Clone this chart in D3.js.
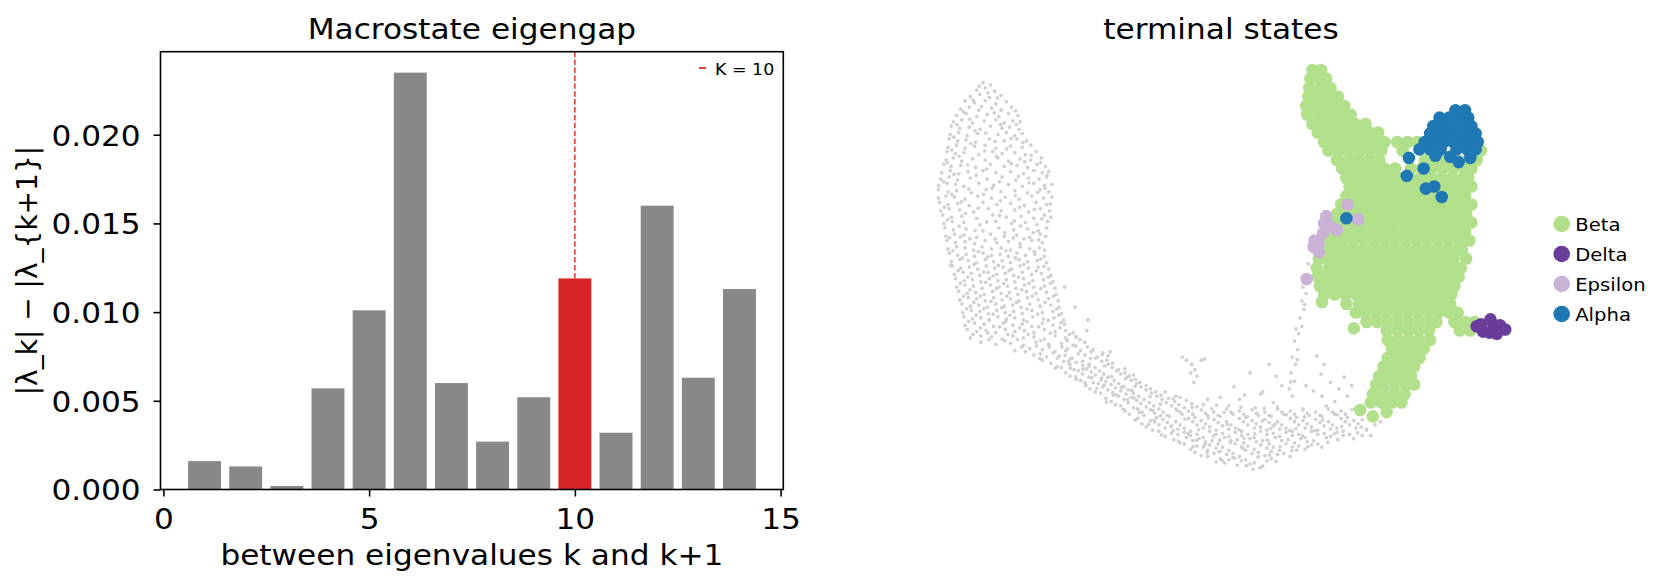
<!DOCTYPE html>
<html>
<head>
<meta charset="utf-8">
<script src="https://cdn.jsdelivr.net/npm/d3@7"></script>
<style>
  body { margin: 0; background: #fff; }
  text { font-family: "DejaVu Sans", sans-serif; fill: #000; }
</style>
</head>
<body>
<script>
// ---- eigengap bars ----
const gapK = [1, 2, 3, 4, 5, 6, 7, 8, 9, 10, 11, 12, 13, 14];
const gapValues = [0.0016, 0.0013, 0.0002, 0.0057, 0.0101, 0.0235, 0.0060,
                   0.0027, 0.0052, 0.0119, 0.0032, 0.0160, 0.0063, 0.0113];
const chosenK = 10;
const gapXTicks = [0, 5, 10, 15];
const gapYTicks = [0, 0.005, 0.010, 0.015, 0.020];

// ---- embedding (UMAP1, UMAP2) ----
const stateNames = ["Beta", "Delta", "Epsilon", "Alpha"];
const stateColors = ["#b2df8a", "#6a3d9a", "#cab2d6", "#1f78b4"];

// cells without a terminal state
const greyCells = [
  [4.8,38.2],[5.5,38.0],
  [4.2,37.5],[5.0,37.7],[5.9,37.4],
  [3.6,36.9],[4.5,37.1],[5.4,36.8],[6.5,37.0],
  [3.1,36.5],[4.0,36.3],[5.0,36.5],[6.0,36.2],[7.0,36.4],
  [2.7,35.7],[3.5,35.9],[4.4,35.6],[5.6,35.8],[6.5,35.6],[7.5,35.9],
  [2.3,35.1],[3.2,35.3],[4.2,35.0],[5.2,35.2],[6.3,35.0],[7.2,35.3],[8.1,35.1],
  [2.0,34.5],[2.8,34.7],[3.8,34.4],[4.9,34.6],[6.0,34.7],[6.8,34.4],[7.6,34.6],[8.3,34.5],
  [1.8,34.1],[2.6,33.9],[3.5,34.0],[4.5,33.8],[5.5,34.1],[6.6,33.9],[7.3,34.0],[8.2,33.8],
  [1.7,33.3],[2.5,33.5],[3.3,33.2],[4.3,33.4],[6.2,33.3],[7.0,33.5],[7.8,33.2],[8.5,33.4],
  [1.6,32.9],[2.4,32.7],[3.2,32.8],[4.1,32.6],[5.4,32.9],[6.8,32.7],[8.0,32.9],[8.9,32.7],
  [1.5,32.1],[2.3,32.3],[3.1,32.0],[4.0,32.2],[5.0,32.3],[6.0,32.0],[7.4,32.2],[8.5,32.1],[9.3,32.3],
  [1.4,31.7],[2.2,31.5],[3.0,31.6],[4.4,31.4],[5.7,31.7],[6.6,31.5],[7.8,31.6],[8.8,31.4],[9.8,31.7],
  [1.3,30.9],[2.0,31.1],[2.8,30.8],[3.8,31.0],[5.0,30.9],[6.2,31.1],[7.2,30.8],[8.3,31.0],[9.3,30.9],[10.3,31.1],
  [1.1,30.5],[1.8,30.3],[2.7,30.4],[4.1,30.2],[5.5,30.5],[6.8,30.3],[8.0,30.4],[9.0,30.2],[9.9,30.5],[10.7,30.3],
  [0.9,29.7],[1.7,29.9],[2.5,29.6],[3.4,29.8],[4.8,29.9],[6.0,29.7],[7.4,29.8],[8.6,29.6],[9.6,29.9],[10.4,29.7],[11.0,29.8],
  [0.8,29.1],[1.6,29.3],[2.4,29.0],[3.6,29.2],[5.2,29.1],[6.6,29.3],[7.9,29.0],[9.1,29.2],[10.1,29.1],[10.8,29.3],
  [0.6,28.5],[1.4,28.7],[2.2,28.6],[3.0,28.4],[4.4,28.7],[5.8,28.5],[7.2,28.6],[8.5,28.4],[9.6,28.7],[10.6,28.5],[11.3,28.6],
  [0.6,28.1],[1.5,27.9],[2.3,28.0],[3.7,27.8],[5.1,28.1],[6.5,27.9],[7.8,28.0],[9.0,27.8],[10.2,28.1],[11.0,27.9],
  [0.6,27.3],[1.3,27.5],[2.1,27.4],[3.1,27.2],[4.3,27.5],[5.6,27.3],[6.9,27.4],[8.2,27.2],[9.4,27.5],[10.5,27.3],[11.3,27.4],
  [0.7,26.9],[1.5,26.7],[2.4,26.8],[3.5,26.6],[4.8,26.9],[6.1,26.7],[7.4,26.8],[8.7,26.6],[9.8,26.9],[10.8,26.7],
  [0.8,26.1],[1.6,26.3],[2.6,26.2],[3.9,26.0],[5.3,26.3],[6.5,26.1],[7.8,26.2],[9.1,26.0],[10.2,26.3],[11.1,26.1],
  [1.0,25.7],[1.8,25.5],[2.8,25.6],[4.2,25.4],[5.7,25.7],[7.0,25.5],[8.4,25.6],[9.6,25.4],[10.6,25.7],[11.2,25.5],
  [1.1,24.9],[1.9,25.1],[3.0,25.0],[4.5,24.8],[6.0,25.1],[7.5,24.9],[8.8,25.0],[9.9,24.8],[10.9,25.1],
  [1.2,24.5],[2.0,24.3],[3.2,24.4],[4.8,24.2],[6.3,24.5],[7.7,24.3],[9.0,24.4],[10.0,24.2],[10.8,24.5],
  [1.3,23.7],[2.1,23.9],[3.0,23.8],[4.2,23.6],[5.5,23.9],[6.8,23.7],[8.0,23.8],[9.2,23.6],[10.2,23.9],[10.7,23.7],
  [1.4,23.3],[2.2,23.1],[3.1,23.2],[4.0,23.0],[5.0,23.3],[6.1,23.1],[7.2,23.2],[8.3,23.0],[9.4,23.3],[10.4,23.1],
  [1.5,22.5],[2.3,22.7],[3.1,22.6],[3.9,22.4],[4.7,22.7],[5.6,22.5],[6.5,22.6],[7.4,22.4],[8.3,22.7],[9.2,22.5],[10.1,22.6],[10.6,22.4],
  [1.6,22.1],[2.4,21.9],[3.2,22.0],[4.0,21.8],[4.8,22.1],[5.6,21.9],[6.4,22.0],[7.2,21.8],[8.0,22.1],[8.8,21.9],[9.7,22.0],[10.6,21.8],
  [1.8,21.3],[2.6,21.5],[3.4,21.4],[4.2,21.2],[5.0,21.5],[5.8,21.3],[6.6,21.4],[7.4,21.2],[8.2,21.5],[9.0,21.3],[9.9,21.4],[10.8,21.2],
  [1.9,20.9],[2.7,20.7],[3.5,20.8],[4.3,20.6],[5.1,20.9],[5.9,20.7],[6.7,20.8],[7.5,20.6],[8.3,20.9],[9.1,20.7],[10.0,20.8],[11.0,20.6],
  [2.1,20.1],[2.9,20.3],[3.7,20.2],[4.5,20.0],[5.3,20.3],[6.1,20.1],[6.9,20.2],[7.7,20.0],[8.5,20.3],[9.4,20.1],[10.3,20.2],[11.2,20.0],
  [2.2,19.7],[3.0,19.5],[3.8,19.6],[4.6,19.4],[5.4,19.7],[6.2,19.5],[7.0,19.6],[7.8,19.4],[8.6,19.7],[9.5,19.5],[10.5,19.6],[11.4,19.4],
  [2.3,18.9],[3.1,19.1],[3.9,19.0],[4.7,18.8],[5.5,19.1],[6.3,18.9],[7.1,19.0],[7.9,18.8],[8.7,19.1],[9.6,18.9],[10.6,19.0],[11.6,18.8],
  [2.5,18.5],[3.3,18.3],[4.1,18.4],[4.9,18.2],[5.7,18.5],[6.5,18.3],[7.3,18.4],[8.1,18.2],[8.9,18.5],[9.8,18.3],[10.8,18.4],[11.7,18.2],
  [2.6,17.7],[3.4,17.9],[4.2,17.8],[5.0,17.6],[5.8,17.9],[6.6,17.7],[7.4,17.8],[8.2,17.6],[9.0,17.9],[10.0,17.7],[11.0,17.8],[11.9,17.6],
  [2.8,17.3],[3.6,17.1],[4.4,17.2],[5.2,17.0],[6.0,17.3],[6.8,17.1],[7.6,17.2],[8.4,17.0],[9.2,17.3],[10.2,17.1],[11.2,17.2],[12.0,17.0],
  [2.9,16.5],[3.7,16.7],[4.5,16.6],[5.3,16.4],[6.1,16.7],[6.9,16.5],[7.7,16.6],[8.5,16.4],[9.4,16.7],[10.4,16.5],[11.4,16.6],[12.2,16.4],
  [3.0,16.1],[3.8,15.9],[4.6,16.0],[5.4,15.8],[6.2,16.1],[7.0,15.9],[7.8,16.0],[8.6,15.8],[9.5,16.1],[10.5,15.9],[11.5,16.0],[12.4,15.8],
  [3.1,15.3],[4.0,15.5],[4.9,15.4],[5.8,15.2],[6.7,15.5],[7.6,15.3],[8.5,15.4],[9.4,15.2],[10.4,15.5],[11.4,15.3],[12.5,15.4],
  [3.3,14.9],[4.2,14.7],[5.1,14.8],[6.0,14.6],[6.9,14.9],[7.8,14.7],[8.7,14.8],[9.6,14.6],[10.6,14.9],[11.6,14.7],[12.6,14.8],[13.3,14.6],
  [3.6,14.1],[4.6,14.3],[5.6,14.2],[6.6,14.0],[7.6,14.3],[8.6,14.1],[9.6,14.2],[10.6,14.0],[11.6,14.3],[12.6,14.1],[13.6,14.2],
  [4.6,13.7],[6.0,13.5],[7.4,13.6],[8.6,13.4],[9.8,13.7],[11.0,13.5],[12.2,13.6],[13.3,13.4],[14.4,13.7],
  [7.8,12.9],[9.2,13.1],[10.4,13.0],[11.6,12.8],[12.8,13.1],[14.0,12.9],[15.2,13.0],
  [9.6,12.5],[10.8,12.3],[12.0,12.4],[13.2,12.2],[14.4,12.5],[15.6,12.3],[16.6,12.4],
  [11.2,11.7],[12.4,11.9],[13.6,11.8],[14.8,11.6],[16.0,11.9],[17.0,11.7],
  [12.2,11.3],[13.4,11.1],[14.6,11.2],[15.8,11.0],[17.0,11.3],[17.6,11.1],
  [13.0,10.5],[14.2,10.7],[15.4,10.6],[16.6,10.4],[17.8,10.7],[18.6,10.5],
  [14.0,10.1],[15.2,9.9],[16.4,10.0],[17.6,9.8],[18.8,10.1],[19.6,9.9],
  [14.9,9.3],[16.1,9.5],[17.3,9.4],[18.5,9.2],[19.7,9.5],[20.6,9.3],
  [15.9,8.9],[17.1,8.7],[18.3,8.8],[19.5,8.6],[20.7,8.9],[21.6,8.7],
  [16.9,8.1],[18.1,8.3],[19.3,8.2],[20.5,8.0],[21.7,8.3],[22.9,8.1],[24.0,8.2],
  [17.8,7.7],[19.0,7.5],[20.2,7.6],[21.4,7.4],[22.6,7.7],[23.8,7.5],[25.0,7.6],[26.4,7.4],[28.0,7.7],[30.5,7.5],[32.6,7.6],[35.0,7.4],[37.2,7.7],
  [18.6,6.9],[19.8,7.1],[21.0,7.0],[22.2,6.8],[23.4,7.1],[24.6,6.9],[25.8,7.0],[27.0,6.8],[28.2,7.1],[29.4,6.9],[30.6,7.0],[31.8,6.8],[33.0,7.1],[34.2,6.9],[35.4,7.0],[36.6,6.8],[37.8,7.1],[39.0,6.9],
  [19.4,6.5],[20.6,6.3],[21.8,6.4],[23.0,6.2],[24.2,6.5],[25.4,6.3],[26.6,6.4],[27.8,6.2],[29.0,6.5],[30.2,6.3],[31.4,6.4],[32.6,6.2],[33.8,6.5],[35.0,6.3],[36.2,6.4],[37.4,6.2],[38.6,6.5],[39.8,6.3],[40.6,6.4],
  [20.2,5.7],[21.4,5.9],[22.6,5.8],[23.8,5.6],[25.0,5.9],[26.2,5.7],[27.4,5.8],[28.6,5.6],[29.8,5.9],[31.0,5.7],[32.2,5.8],[33.4,5.6],[34.6,5.9],[35.8,5.7],[37.0,5.8],[38.2,5.6],[39.4,5.9],[40.5,5.7],
  [21.4,5.3],[22.6,5.1],[23.8,5.2],[25.0,5.0],[26.2,5.3],[27.4,5.1],[28.6,5.2],[29.8,5.0],[31.0,5.3],[32.2,5.1],[33.4,5.2],[34.6,5.0],[35.8,5.3],[37.0,5.1],[38.2,5.2],[39.4,5.0],
  [22.8,4.5],[24.0,4.7],[25.2,4.6],[26.4,4.4],[27.6,4.7],[28.8,4.5],[30.0,4.6],[31.2,4.4],[32.4,4.7],[33.6,4.5],[34.8,4.6],[36.0,4.4],[37.2,4.7],[38.3,4.5],
  [23.8,4.1],[25.0,3.9],[26.2,4.0],[27.4,3.8],[28.6,4.1],[29.8,3.9],[31.0,4.0],[32.2,3.8],[33.4,4.1],[34.6,3.9],[35.8,4.0],[36.8,3.8],
  [24.8,3.3],[26.0,3.5],[27.2,3.4],[28.4,3.2],[29.6,3.5],[30.8,3.3],[32.0,3.4],[33.2,3.2],[34.4,3.5],
  [26.0,2.9],[27.2,2.7],[28.4,2.8],[29.6,2.6],[30.8,2.9],[32.0,2.7],
  [27.6,2.3],[28.8,2.1],[30.0,2.2],[31.2,2.0],
  [30.3,1.7],
  // denser band along the lower arm
  [8.8,12.8],[10.2,12.6],[11.4,12.7],[12.6,12.9],[13.8,12.6],[15.0,12.8],[16.1,12.7],
  [10.4,12.0],[11.8,12.2],[13.0,12.1],[14.2,11.9],[15.4,12.2],[16.5,12.0],
  [11.8,11.4],[13.0,11.6],[14.2,11.5],[15.4,11.3],[16.6,11.6],
  [12.6,10.8],[13.8,11.0],[15.0,10.9],[16.2,10.7],[17.4,11.0],[18.2,10.8],
  [13.6,10.2],[14.8,10.4],[16.0,10.3],[17.2,10.1],[18.4,10.4],[19.2,10.2],
  [14.5,9.6],[15.7,9.8],[16.9,9.7],[18.1,9.5],[19.3,9.8],[20.2,9.6],
  [15.4,9.0],[16.6,9.2],[17.8,9.1],[19.0,8.9],[20.2,9.2],[21.1,9.0],
  [16.4,8.4],[17.6,8.6],[18.8,8.5],[20.0,8.3],[21.2,8.6],[22.3,8.4],[23.4,8.5],
  [17.3,7.8],[18.5,8.0],[19.7,7.9],[20.9,7.7],[22.1,8.0],[23.3,7.8],[24.5,7.9],[25.6,7.8],
  [18.2,7.2],[19.4,7.4],[20.6,7.3],[21.8,7.1],[23.0,7.4],[24.2,7.2],[25.4,7.3],[26.6,7.1],[27.8,7.4],[29.0,7.2],[30.2,7.3],[31.4,7.1],[32.6,7.4],[33.8,7.2],[35.0,7.3],[36.2,7.1],[37.4,7.4],[38.6,7.2],
  [20.0,6.8],[21.2,6.6],[22.4,6.7],[23.6,6.9],[24.8,6.6],[26.0,6.8],[27.2,6.7],[28.4,6.9],[29.6,6.6],[30.8,6.8],[32.0,6.7],[33.2,6.9],[34.4,6.6],[35.6,6.8],[36.8,6.7],[38.0,6.9],[39.2,6.6],
  [19.8,6.0],[21.0,6.2],[22.2,6.1],[23.4,5.9],[24.6,6.2],[25.8,6.0],[27.0,6.1],[28.2,5.9],[29.4,6.2],[30.6,6.0],[31.8,6.1],[33.0,5.9],[34.2,6.2],[35.4,6.0],[36.6,6.1],[37.8,5.9],[39.0,6.2],[40.2,6.0],
  [20.8,5.4],[22.0,5.6],[23.2,5.5],[24.4,5.3],[25.6,5.6],[26.8,5.4],[28.0,5.5],[29.2,5.3],[30.4,5.6],[31.6,5.4],[32.8,5.5],[34.0,5.3],[35.2,5.6],[36.4,5.4],[37.6,5.5],[38.8,5.3],[40.0,5.6],[41.0,5.4],
  [22.0,4.8],[23.2,5.0],[24.4,4.9],[25.6,4.7],[26.8,5.0],[28.0,4.8],[29.2,4.9],[30.4,4.7],[31.6,5.0],[32.8,4.8],[34.0,4.9],[35.2,4.7],[36.4,5.0],[37.6,4.8],[38.8,4.9],[40.6,4.9],
  [23.4,4.2],[24.6,4.4],[25.8,4.3],[27.0,4.1],[28.2,4.4],[29.4,4.2],[30.6,4.3],[31.8,4.1],[33.0,4.4],[34.2,4.2],[35.4,4.3],[36.4,4.1],
  [24.4,3.6],[25.6,3.8],[26.8,3.7],[28.0,3.5],[29.2,3.8],[30.4,3.6],[31.6,3.7],[32.8,3.5],[34.0,3.8],[35.2,3.6],
  [25.4,3.0],[26.6,3.2],[27.8,3.1],[29.0,2.9],[30.2,3.2],[31.4,3.0],[32.6,3.1],[33.8,2.9],
  [26.8,2.4],[28.0,2.6],[29.2,2.5],[30.4,2.3],[31.6,2.5],
  // in-between cells, upper lobe
  [4.45,37.85],[5.25,37.25],[3.85,36.55],[6.15,36.75],[4.65,35.95],[2.95,35.45],[7.85,35.55],[5.85,35.35],
  [3.55,34.75],[6.45,34.25],[2.35,34.25],[7.95,34.25],[4.05,33.65],[5.05,33.45],[2.05,33.05],[7.45,32.95],
  [3.65,32.45],[8.55,32.55],[5.95,32.65],[1.85,31.85],[4.95,31.75],[7.05,31.95],[9.35,31.35],[2.55,31.25],
  [6.05,31.25],[8.75,30.75],[1.45,30.65],[3.35,30.45],[7.45,30.55],[10.25,30.65],[5.15,30.05],[2.05,29.55],
  [8.15,29.35],[10.85,29.45],[4.15,29.45],[6.35,28.85],[1.05,28.85],[9.15,28.75],[3.45,28.15],[10.65,28.25],
  [5.65,28.25],[7.85,27.55],[1.85,27.65],[9.95,27.85],[4.85,27.65],[2.75,26.95],[6.45,27.05],[8.25,26.45],
  [11.15,26.75],[1.15,26.45],[4.35,26.35],[9.65,26.25],[3.15,25.85],[6.35,25.65],[7.75,25.15],[10.35,25.35],
  [1.45,25.25],[5.15,25.05],[2.55,24.65],[8.35,24.65],[9.55,24.05],[4.05,24.25],[6.85,24.05],[1.65,23.55],
  [3.55,23.45],[5.95,23.45],[8.65,23.45],[10.05,23.35],[7.65,23.55],[2.65,23.65],
  // in-between cells, lower lobe
  [1.95,22.35],[4.35,22.25],[6.95,22.35],[9.65,22.25],[2.85,21.65],[5.25,21.75],[7.85,21.65],[10.25,21.55],
  [1.75,20.95],[3.95,21.05],[6.25,20.95],[8.65,21.05],[10.55,20.85],[2.45,20.45],[4.85,20.35],[7.25,20.45],
  [9.85,20.45],[3.35,19.85],[5.75,19.95],[8.15,19.85],[10.95,19.85],[2.65,19.25],[5.05,19.35],[6.75,19.25],
  [9.15,19.25],[11.15,19.25],[3.55,18.65],[6.05,18.75],[8.45,18.65],[10.25,18.75],[2.95,18.05],[4.55,18.05],
  [7.05,18.05],[9.45,18.05],[11.45,18.05],[3.95,17.45],[5.55,17.55],[7.95,17.45],[10.65,17.45],[3.25,16.85],
  [4.85,16.85],[6.55,16.95],[8.95,16.85],[11.75,16.85],[4.15,16.25],[5.75,16.35],[7.35,16.25],[9.95,16.35],
  [11.95,16.25],[3.45,15.65],[5.35,15.75],[6.95,15.65],[8.95,15.65],[10.95,15.75],[12.15,15.55],[4.55,15.05],
  [6.35,15.15],[8.25,15.05],[10.05,15.15],[12.05,15.05],[3.85,14.45],[5.25,14.55],[7.15,14.45],[9.05,14.45],
  [11.15,14.55],[12.95,14.45],[5.35,13.95],[6.85,13.85],[8.05,13.95],[10.25,13.85],[12.75,13.85],[13.95,13.95],
  [8.45,13.25],[9.85,13.35],[11.05,13.25],[12.25,13.25],[13.55,13.35],[14.65,13.25],
  // in-between cells, arm
  [10.15,12.15],[12.55,12.45],[14.95,12.15],[16.05,12.55],[11.65,11.25],[13.05,11.25],[14.25,11.15],[16.25,11.45],
  [13.55,10.45],[15.05,10.35],[16.95,10.45],[18.25,10.25],[14.45,9.85],[16.25,9.65],[17.85,9.45],[19.15,9.55],
  [15.55,9.35],[17.05,8.95],[18.85,9.15],[20.55,8.55],[16.45,8.05],[19.05,8.45],[21.55,7.85],[22.75,8.35],
  [18.05,7.35],[20.85,7.25],[23.15,7.25],[24.55,7.55],[19.15,6.35],[21.55,6.75],[23.85,6.45],[26.05,6.55],
  [27.55,7.05],[20.45,5.95],[22.75,5.35],[25.15,5.45],[27.85,5.95],[29.75,6.65],[21.65,4.95],[24.15,5.05],
  [26.55,4.85],[28.95,5.45],[31.15,6.25],[23.25,4.35],[25.75,4.05],[28.15,4.25],[30.45,5.05],[32.35,5.95],
  [24.65,3.85],[27.05,3.35],[29.35,3.65],[31.65,4.45],[33.75,5.35],[25.95,3.25],[28.55,2.75],[30.75,2.85],
  [32.85,3.85],[34.95,4.85],[27.35,2.55],[29.65,2.05],[31.85,3.05],[33.95,3.45],[36.15,5.35],[30.95,1.85],
  [32.45,2.45],[35.45,3.85],[37.35,4.25],[38.65,5.75],[36.85,6.35],[35.15,6.65],[33.45,6.85],[31.35,7.45],
  [29.15,7.55],[26.85,7.75],[38.25,6.85],[39.65,7.35],[40.15,5.15],[37.95,5.05],[34.35,5.55],[31.95,5.55],
  [29.45,4.65],[27.15,4.45],[24.95,4.45],[22.55,5.75],[20.95,6.35],[19.55,7.05],[18.45,8.25],[17.35,8.75],
  [15.95,10.15],[14.85,11.45],[12.85,11.85],
  // thin trail rising towards the beta cluster
  [34.0,8.6],[33.7,9.3],[34.2,10.0],[33.9,10.8],[34.3,11.6],[34.0,12.3],[34.5,13.0],[34.2,13.8],
  [34.6,14.5],[34.9,15.2],[34.7,16.0],[35.1,16.8],[34.9,17.6],[35.3,18.3],[35.0,18.9],[35.5,21.1],
  [33.85,9.95],[34.45,12.05],[34.35,14.95],[35.15,17.25],
  [36.3,12.4],[37.0,11.6],[36.7,10.7],[37.6,9.9],[38.4,9.3],[39.2,8.6],[38.0,8.1],[36.0,9.1],
  [35.3,9.6],[36.8,8.6],[39.6,9.6],[38.9,10.4],[41.0,5.5],[41.8,5.9],[42.3,6.2],[41.4,4.9],[39.8,4.6],
  // small spur and stray cells
  [23.6,12.3],[24.0,12.0],[24.5,11.6],[24.8,11.1],[25.0,10.5],[24.7,9.9],[25.4,12.0],[25.7,12.1],[24.4,10.8],
  [12.5,18.9],[13.5,17.0],[14.7,15.8],[13.6,14.2],[14.6,14.8],[16.8,12.8],[18.2,11.2],[19.0,10.6],
  [22.0,9.0],[23.0,8.6],[26.0,8.3],[27.2,8.5],[29.0,8.3],[31.0,8.8],[32.2,8.0],
  [28.5,9.5],[30.0,10.8],[31.2,9.0],[32.5,10.5],[29.5,8.7],[31.8,11.6],[33.0,9.6]
];

// Beta cells, one row per UMAP2 level: [umap2, umap1, umap1, ...]
const betaRows = [
  [39.4, 35.9, 36.7],
  [38.6, 35.7, 36.5, 37.2],
  [37.7, 35.6, 36.6, 37.6],
  [36.9, 35.5, 36.4, 37.4, 38.3],
  [36.0, 35.3, 36.1, 37.0, 38.0, 38.9],
  [35.2, 35.4, 36.5, 37.5, 38.5, 39.5],
  [34.3, 35.9, 36.9, 37.9, 38.9, 39.9, 40.9],
  [33.5, 36.4, 37.4, 38.4, 39.4, 40.4, 41.3, 42.1],
  [32.6, 37.0, 38.0, 39.0, 40.0, 41.0, 42.0, 42.7, 43.9, 44.9, 45.8],
  [31.8, 37.4, 38.4, 39.4, 40.4, 41.4, 42.4, 44.4, 51.8],
  [30.9, 38.2, 39.2, 40.2, 41.2, 42.2, 46.5, 47.5, 48.5, 49.5, 50.5, 51.4],
  [30.1, 38.7, 39.7, 40.7, 41.7, 42.7, 43.7, 45.2, 46.2, 47.2, 48.2, 49.2, 50.2, 50.9],
  [29.2, 39.1, 40.1, 41.1, 42.1, 43.1, 44.1, 45.1, 46.1, 47.1, 48.1, 49.1, 50.1, 50.6],
  [28.4, 39.4, 40.4, 41.4, 42.4, 43.4, 44.4, 45.4, 46.4, 47.4, 48.4, 49.4, 50.4, 50.9],
  [27.5, 39.1, 40.0, 41.0, 42.0, 43.0, 44.0, 45.0, 46.0, 47.0, 48.0, 49.0, 50.0, 50.3],
  [26.7, 38.6, 39.5, 40.5, 41.5, 42.5, 43.5, 44.5, 45.5, 46.5, 47.5, 48.5, 49.5, 50.5, 50.9],
  [25.8, 38.2, 39.1, 40.1, 41.1, 42.1, 43.1, 44.1, 45.1, 46.1, 47.1, 48.1, 49.1, 50.1, 50.4],
  [25.0, 37.8, 38.6, 39.6, 40.6, 41.6, 42.6, 43.6, 44.6, 45.6, 46.6, 47.6, 48.6, 49.6, 50.6, 50.9],
  [24.1, 37.4, 38.3, 39.3, 40.3, 41.3, 42.3, 43.3, 44.3, 45.3, 46.3, 47.3, 48.3, 49.3, 50.3],
  [23.3, 37.1, 37.9, 38.8, 39.8, 40.8, 41.8, 42.8, 43.8, 44.8, 45.8, 46.8, 47.8, 48.8, 49.8, 50.7],
  [22.4, 36.7, 37.6, 38.6, 39.6, 40.6, 41.6, 42.6, 43.6, 44.6, 45.6, 46.6, 47.6, 48.6, 49.6, 50.0],
  [21.6, 36.5, 37.2, 38.2, 39.2, 40.2, 41.2, 42.2, 43.2, 44.2, 45.2, 46.2, 47.2, 48.2, 49.2, 50.4],
  [20.7, 36.3, 37.5, 38.5, 39.5, 40.5, 41.5, 42.5, 43.5, 44.5, 45.5, 46.5, 47.5, 48.5, 49.5, 49.9],
  [19.9, 36.4, 37.0, 38.0, 39.0, 40.0, 41.0, 42.0, 43.0, 44.0, 45.0, 46.0, 47.0, 48.0, 49.0, 49.7],
  [19.0, 36.6, 37.5, 38.5, 39.5, 40.5, 41.5, 42.5, 43.5, 44.5, 45.5, 46.5, 47.5, 48.5, 49.3],
  [18.2, 37.0, 38.0, 39.0, 40.0, 41.0, 42.0, 43.0, 44.0, 45.0, 46.0, 47.0, 48.0, 49.0],
  [17.5, 36.8],
  [17.3, 39.1, 40.3, 41.3, 42.3, 43.3, 44.3, 45.3, 46.3, 47.3, 48.3, 48.9],
  [16.5, 40.0, 40.8, 41.8, 42.8, 43.8, 44.8, 45.8, 46.8, 47.8, 48.8, 49.6],
  [15.6, 41.0, 42.0, 43.0, 44.0, 45.0, 46.0, 47.0, 47.6, 49.3, 50.3, 51.2],
  [15.0, 39.8],
  [14.8, 42.9, 43.9, 44.9, 45.9, 46.9, 49.8, 50.8],
  [13.9, 43.0, 44.0, 45.0, 46.0, 47.0],
  [13.1, 43.4, 44.4, 45.4, 46.4],
  [12.2, 43.0, 44.0, 45.0, 46.0],
  [11.4, 42.6, 43.5, 44.5, 45.5],
  [10.5, 42.2, 43.2, 44.2, 45.2],
  [9.7, 41.9, 42.8, 43.8, 44.8, 45.5],
  [8.8, 41.6, 42.6, 43.6, 44.6],
  [8.0, 41.4, 42.4, 43.4, 44.3],
  [7.3, 40.4],
  [7.1, 42.9],
  [6.7, 41.6]
];

const epsilonCells = [
  [39.2,26.7],[40.2,25.3],[37.2,25.6],[37.0,24.9],[37.6,24.6],[38.2,24.3],
  [36.9,24.0],[36.1,23.3],[36.5,23.0],[36.0,22.7],[36.5,22.2],[35.35,19.66]
];

const deltaCells = [
  [51.4,15.2],[51.8,15.4],[52.0,14.7],[52.7,15.85],[52.6,14.6],
  [53.0,15.3],[53.3,14.5],[53.6,15.3],[54.1,14.9]
];

const alphaCells = [
  [49.4,35.6],[50.3,35.6],
  [47.9,34.9],[48.8,34.9],[49.7,34.9],[50.6,34.9],
  [47.3,34.1],[48.2,34.1],[49.1,34.1],[50.0,34.1],[50.9,34.1],
  [47.0,33.4],[47.9,33.4],[48.8,33.4],[49.7,33.4],[50.6,33.4],[51.3,33.4],
  [46.5,32.6],[47.4,32.6],[48.3,32.6],[49.2,32.6],[50.1,32.6],[51.0,32.6],[51.5,32.6],
  [46.0,31.9],[47.0,31.9],[48.0,31.9],[49.5,31.9],[50.5,31.9],[51.3,31.9],
  [45.0,31.1],[47.5,31.3],[48.9,31.2],[49.7,30.7],[50.8,31.1],
  [46.4,30.1],[44.8,29.4],[46.6,28.2],[47.4,28.4],[48.1,27.4],[39.1,25.4]
];

// ---------------------------------------------------------------
// the saved figure is a little wider than tall, so text is stretched sideways
const stretch = 1.09;

function placeText(sel, px, py) {
  return sel.attr("transform", `translate(${px},${py}) scale(${stretch},1)`);
}

const svg = d3.select("body").append("svg")
    .attr("width", 1661)
    .attr("height", 588);

// ---- left panel: eigengap ----
const frame = {left: 160.5, right: 783.3, top: 51.7, bottom: 489.5};

const x = d3.scaleLinear()
    .domain([-0.07, 15.065])
    .range([frame.left, frame.right]);

const y = d3.scaleLinear()
    .domain([0, 0.02468])
    .range([frame.bottom, frame.top]);

const gap = svg.append("g");

gap.append("line")
    .attr("x1", x(chosenK)).attr("x2", x(chosenK))
    .attr("y1", frame.top).attr("y2", frame.bottom)
    .attr("stroke", "#d62728")
    .attr("stroke-width", 1.4)
    .attr("stroke-dasharray", "5.5,2.4");

gap.selectAll(".bar")
    .data(gapK.map((k, i) => ({k: k, v: gapValues[i]})))
    .enter().append("rect")
    .attr("class", "bar")
    .attr("x", d => x(d.k - 0.4))
    .attr("y", d => y(d.v))
    .attr("width", x(0.8) - x(0))
    .attr("height", d => y(0) - y(d.v))
    .attr("fill", d => d.k === chosenK ? "#d62728" : "#888888");

const xAxis = gap.append("g")
    .attr("transform", `translate(0,${frame.bottom})`)
    .call(d3.axisBottom(x).tickValues(gapXTicks).tickFormat(d3.format("d"))
        .tickSize(7).tickSizeOuter(0));
xAxis.select(".domain").remove();
xAxis.selectAll("line").attr("stroke", "#000").attr("stroke-width", 1.6);
xAxis.selectAll("text")
    .attr("dy", null).attr("y", null)
    .attr("font-size", 28.6).attr("fill", "#000")
    .attr("font-family", "DejaVu Sans")
    .attr("transform", `translate(0,39) scale(${stretch},1)`);

const yAxis = gap.append("g")
    .attr("transform", `translate(${frame.left},0)`)
    .call(d3.axisLeft(y).tickValues(gapYTicks).tickFormat(d3.format(".3f"))
        .tickSize(7).tickSizeOuter(0));
yAxis.select(".domain").remove();
yAxis.selectAll("line").attr("stroke", "#000").attr("stroke-width", 1.6);
yAxis.selectAll("text")
    .attr("x", null).attr("dy", "0.36em")
    .attr("font-size", 28.6).attr("fill", "#000")
    .attr("font-family", "DejaVu Sans")
    .attr("transform", `translate(-19.8,0) scale(${stretch},1)`);

gap.append("rect")
    .attr("x", frame.left).attr("y", frame.top)
    .attr("width", frame.right - frame.left)
    .attr("height", frame.bottom - frame.top)
    .attr("fill", "none")
    .attr("stroke", "#000")
    .attr("stroke-width", 1.6);

placeText(gap.append("text"), (frame.left + frame.right) / 2, 39.3)
    .attr("text-anchor", "middle").attr("font-size", 28.6)
    .text("Macrostate eigengap");

placeText(gap.append("text"), (frame.left + frame.right) / 2, 565)
    .attr("text-anchor", "middle").attr("font-size", 28.6)
    .text("between eigenvalues k and k+1");

gap.append("text")
    .attr("transform", `translate(36.5,${(frame.top + frame.bottom) / 2}) rotate(-90)`)
    .attr("text-anchor", "middle").attr("font-size", 28)
    .text("|λ_k| − |λ_{k+1}|");

gap.append("line")
    .attr("x1", 699).attr("x2", 706).attr("y1", 68).attr("y2", 68)
    .attr("stroke", "#d62728").attr("stroke-width", 1.8);
placeText(gap.append("text"), 715, 75)
    .attr("font-size", 16)
    .text(`K = ${chosenK}`);

// ---- right panel: terminal states ----
const ux = d3.scaleLinear().domain([0, 55]).range([932.2, 1514.8]);
const uy = d3.scaleLinear().domain([0, 40]).range([487.3, 63.6]);

const umap = svg.append("g");

umap.selectAll(".grey")
    .data(greyCells)
    .enter().append("circle")
    .attr("class", "grey")
    .attr("cx", d => ux(d[0]))
    .attr("cy", d => uy(d[1]))
    .attr("r", 1.85)
    .attr("fill", "#d0d0d0");

const betaCells = betaRows.flatMap(([v, ...us]) => us.map(u => [u, v]));
const groups = [
  {name: "Beta", cells: betaCells},
  {name: "Epsilon", cells: epsilonCells},
  {name: "Delta", cells: deltaCells},
  {name: "Alpha", cells: alphaCells}
];

groups.forEach(g => {
  const color = stateColors[stateNames.indexOf(g.name)];
  umap.append("g").selectAll("circle")
      .data(g.cells)
      .enter().append("circle")
      .attr("cx", d => ux(d[0]))
      .attr("cy", d => uy(d[1]))
      .attr("r", 6.3)
      .attr("fill", color);
});

placeText(umap.append("text"), 1221, 39.3)
    .attr("text-anchor", "middle").attr("font-size", 28.6)
    .text("terminal states");

const legend = umap.append("g")
    .selectAll("g")
    .data(stateNames)
    .enter().append("g")
    .attr("transform", (d, i) => `translate(1561.7,${224 + i * 30})`);

legend.append("circle")
    .attr("r", 8.3)
    .attr("fill", (d, i) => stateColors[i]);

placeText(legend.append("text"), 13.5, 6.5)
    .attr("font-size", 18)
    .text(d => d);
</script>
</body>
</html>
